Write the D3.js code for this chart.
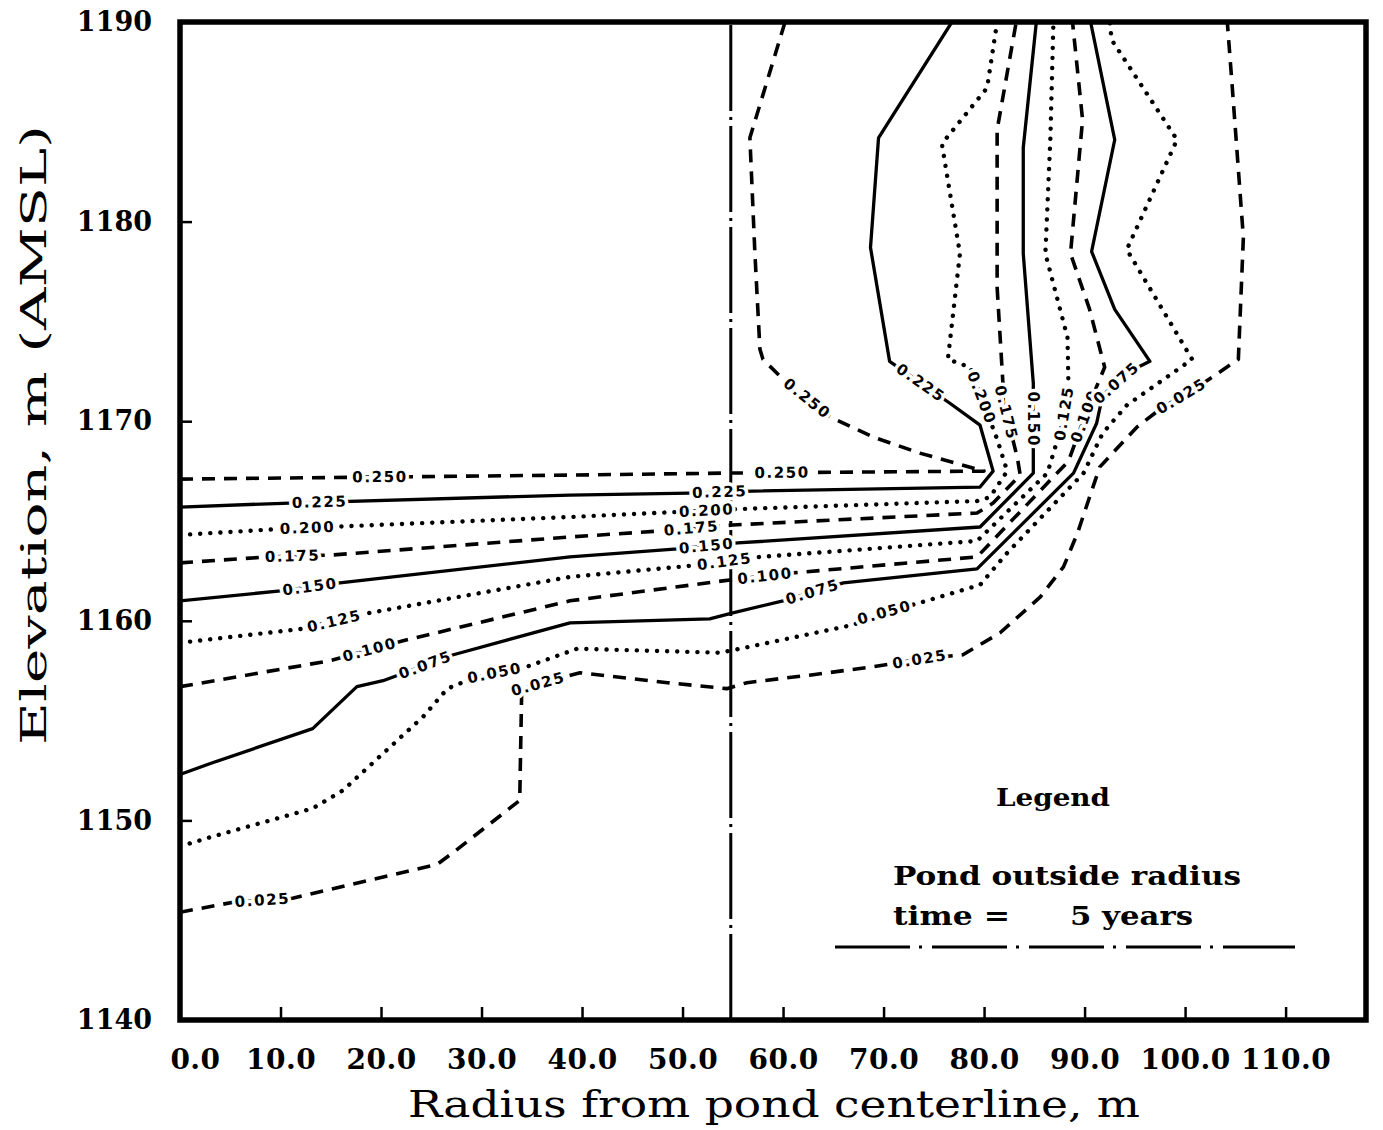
<!DOCTYPE html>
<html>
<head>
<meta charset="utf-8">
<script src="https://cdn.jsdelivr.net/npm/d3@7"></script>
<style>
  html, body { margin: 0; padding: 0; background: #fff; }
  svg { display: block; }
</style>
</head>
<body>
<svg id="chart" width="1383" height="1130"></svg>
<script>
// Concentration contour levels, lowest to highest
const levels = [0.025, 0.050, 0.075, 0.100, 0.125, 0.150, 0.175, 0.200, 0.225, 0.250];

// Contour traces as [radius (m), elevation (m AMSL)]
const contour025 = [[0,1145.4],[5.3,1145.9],[11.2,1146.1],[25.6,1147.8],[27.2,1148.4],[33.8,1151.0],[34.0,1156.6],[39.8,1157.4],[48.5,1156.9],[54.4,1156.6],[56.4,1156.9],[63.0,1157.3],[69.0,1157.7],[74.0,1158.1],[77.9,1158.3],[81.6,1159.4],[85.6,1161.2],[87.9,1162.7],[89.3,1164.4],[91.5,1167.7],[95.2,1169.7],[97.5,1170.6],[101.8,1171.9],[105.3,1173.1],[105.8,1179.2],[104.7,1186.7],[104.2,1190]];
const contour050 = [[0,1148.7],[3.3,1149.2],[13.2,1150.6],[16.2,1151.5],[24.2,1155.2],[26.6,1156.6],[29.5,1157.2],[34.5,1157.7],[39.5,1158.6],[53.7,1158.4],[55.7,1158.6],[67.0,1159.8],[70.0,1160.4],[73.6,1160.9],[79.6,1161.8],[82.3,1163.4],[89.9,1167.4],[91.8,1169.4],[94.2,1170.8],[100.7,1173.1],[94.2,1178.6],[99.2,1184.1],[92.7,1189.1],[92.5,1190]];
const contour075 = [[0,1152.3],[3.3,1152.9],[13.2,1154.6],[17.6,1156.7],[20.2,1157.0],[27.2,1158.3],[38.8,1159.9],[52.7,1160.1],[55.0,1160.4],[60.0,1161.0],[66.0,1161.9],[79.3,1162.6],[88.9,1167.4],[91.2,1169.9],[91.8,1171.3],[94.5,1172.5],[96.5,1173.0],[93.0,1175.6],[90.7,1178.5],[93.0,1184.1],[90.6,1190]];
const contour100 = [[0,1156.7],[14.9,1158.0],[22.2,1159.0],[38.8,1161.0],[54.0,1162.0],[61.0,1162.4],[79.3,1163.2],[88.4,1168.0],[90.5,1170.9],[92.0,1172.7],[90.5,1175.6],[88.6,1178.4],[89.8,1185.1],[88.8,1190]];
const contour125 = [[0,1158.9],[12.2,1159.6],[18.9,1160.4],[38.8,1162.2],[51.7,1162.8],[57.7,1163.2],[79.3,1164.0],[86.3,1167.4],[87.8,1169.9],[88.4,1171.7],[88.3,1174.2],[86.1,1178.4],[86.6,1184.2],[86.9,1190]];
const contour150 = [[0,1161.0],[10.0,1161.5],[15.9,1161.9],[38.8,1163.2],[49.5,1163.6],[55.5,1163.9],[79.6,1164.7],[84.9,1167.4],[84.9,1171.9],[83.9,1178.4],[83.9,1183.7],[85.2,1190]];
const contour175 = [[0,1162.9],[8.7,1163.2],[15.2,1163.3],[38.8,1164.2],[47.8,1164.5],[55.0,1164.8],[79.3,1165.4],[80.9,1165.9],[83.6,1167.3],[83.3,1168.2],[81.9,1171.0],[81.9,1171.7],[81.3,1176.7],[81.3,1184.6],[83.2,1190]];
const contour200 = [[0,1164.3],[10.0,1164.6],[38.8,1165.2],[55.7,1165.6],[79.3,1166.0],[80.6,1166.2],[82.3,1167.5],[81.3,1169.1],[78.6,1172.7],[76.4,1173.1],[77.6,1178.4],[75.8,1183.9],[80.3,1186.7],[81.3,1190]];
const contour225 = [[0,1165.7],[10.9,1165.9],[38.8,1166.3],[50.7,1166.4],[57.0,1166.5],[79.6,1166.7],[80.9,1167.5],[79.6,1169.8],[76.6,1170.9],[70.6,1173.0],[68.7,1178.7],[69.5,1184.2],[76.8,1190]];
const contour250 = [[0,1167.1],[38.8,1167.3],[54.4,1167.4],[80.0,1167.5],[73.6,1168.4],[69.0,1169.2],[64.7,1170.2],[60.0,1172.1],[58.0,1173.1],[57.7,1173.6],[57.2,1178.4],[56.7,1184.2],[60.2,1190]];

const contours = [contour025, contour050, contour075, contour100, contour125,
                  contour150, contour175, contour200, contour225, contour250];

// Where each level is labelled: [level, radius, elevation]
const contourLabels = [
  [0.250, 19.9, 1167.2], [0.250, 59.9, 1167.5], [0.250, 62.5, 1171.2],
  [0.225, 13.9, 1165.8], [0.225, 53.7, 1166.5], [0.225, 73.8, 1172.0],
  [0.200, 12.7, 1164.5], [0.200, 52.4, 1165.5], [0.200, 79.9, 1171.2],
  [0.175, 11.2, 1163.2], [0.175, 50.9, 1164.6], [0.175, 82.0, 1170.4],
  [0.150, 12.9, 1161.8], [0.150, 52.4, 1163.7], [0.150, 84.9, 1170.1],
  [0.125, 15.4, 1159.9], [0.125, 54.2, 1162.9], [0.125, 87.9, 1170.4],
  [0.100, 18.9, 1158.5], [0.100, 58.2, 1162.3], [0.100, 89.8, 1170.3],
  [0.075, 24.4, 1157.8], [0.075, 62.9, 1161.5], [0.075, 93.2, 1171.9],
  [0.050, 31.3, 1157.4], [0.050, 70.1, 1160.4],
  [0.025, 8.2, 1146.0], [0.025, 35.6, 1156.9], [0.025, 73.6, 1158.1], [0.025, 99.7, 1171.2]
];

const radiusTicks = [0, 10, 20, 30, 40, 50, 60, 70, 80, 90, 100, 110];
const elevationTicks = [1140, 1150, 1160, 1170, 1180, 1190];
const pondOutsideRadius = 54.8;

const xTitle = "Radius from pond centerline, m";
const yTitle = "Elevation, m (AMSL)";
const legendTitle = "Legend";
const legendSeries = "Pond outside radius";
const legendTimeLabel = "time =";
const legendTimeValue = "5 years";

// ---- layout ----
const plot = { left: 180, top: 22, right: 1366, bottom: 1020 };
const svg = d3.select("#chart");

const x = d3.scaleLinear().domain([0, 118]).range([plot.left, plot.right]);
const y = d3.scaleLinear().domain([1140, 1190]).range([plot.bottom, plot.top]);

svg.append("rect").attr("width", 1383).attr("height", 1130).attr("fill", "#fff");

svg.append("defs").append("clipPath").attr("id", "plotClip")
  .append("rect")
  .attr("x", plot.left).attr("y", plot.top)
  .attr("width", plot.right - plot.left).attr("height", plot.bottom - plot.top);

const plotG = svg.append("g").attr("clip-path", "url(#plotClip)");

// Line pattern cycles dashed / dotted / solid through the levels
function lineStyle(i) {
  const kind = ["dashed", "dotted", "solid"][i % 3];
  if (kind === "dashed") return { w: 3.6, dash: "13,9", cap: "butt" };
  if (kind === "dotted") return { w: 4.4, dash: "0.1,10", cap: "round" };
  return { w: 3.3, dash: null, cap: "butt" };
}

const line = d3.line().x(d => x(d[0])).y(d => y(d[1]));

contours.forEach((pts, i) => {
  const s = lineStyle(i);
  plotG.append("path")
    .attr("d", line(pts))
    .attr("fill", "none")
    .attr("stroke", "#000")
    .attr("stroke-width", s.w)
    .attr("stroke-linecap", s.cap)
    .attr("stroke-linejoin", "round")
    .attr("stroke-dasharray", s.dash);
});

// Pond outside radius (dash-dot)
plotG.append("path")
  .attr("d", line([[pondOutsideRadius, 1140], [pondOutsideRadius, 1190]]))
  .attr("fill", "none")
  .attr("stroke", "#000")
  .attr("stroke-width", 3)
  .attr("stroke-dasharray", "86,6,3,6");

// Contour labels sit on their line, rotated with the local segment
function snapToLine(pts, px, py) {
  let best = null;
  for (let k = 0; k < pts.length - 1; k++) {
    const ax = x(pts[k][0]), ay = y(pts[k][1]);
    const bx = x(pts[k + 1][0]), by = y(pts[k + 1][1]);
    const dx = bx - ax, dy = by - ay, L2 = dx * dx + dy * dy;
    let t = L2 ? ((px - ax) * dx + (py - ay) * dy) / L2 : 0;
    t = Math.max(0, Math.min(1, t));
    const qx = ax + t * dx, qy = ay + t * dy;
    const dist = (qx - px) ** 2 + (qy - py) ** 2;
    if (!best || dist < best.dist) best = { dist, qx, qy, ang: Math.atan2(dy, dx) * 180 / Math.PI };
  }
  let a = best.ang;
  if (a > 90) a -= 180;
  if (a <= -90) a += 180;
  best.ang = a;
  return best;
}

const fmt = d3.format(".3f");
const labelG = svg.append("g");
contourLabels.forEach(([lev, r, e]) => {
  const idx = levels.findIndex(v => Math.abs(v - lev) < 1e-9);
  const p = snapToLine(contours[idx], x(r), y(e));
  labelG.append("text")
    .attr("transform", `translate(${p.qx},${p.qy}) rotate(${p.ang})`)
    .attr("text-anchor", "middle")
    .attr("dominant-baseline", "central")
    .attr("font-family", "'DejaVu Sans', sans-serif")
    .attr("font-weight", "bold")
    .attr("font-size", 15)
    .attr("letter-spacing", 1.6)
    .attr("stroke", "#fff")
    .attr("stroke-width", 7)
    .attr("stroke-linejoin", "round")
    .attr("paint-order", "stroke")
    .attr("fill", "#000")
    .text(fmt(lev));
});

// ---- axes ----
const tickFont = "'DejaVu Serif', serif";

const xAxis = d3.axisBottom(x)
  .tickValues(radiusTicks)
  .tickFormat(d3.format(".1f"))
  .tickSize(-13)
  .tickPadding(29);
const gx = svg.append("g").attr("transform", `translate(0,${plot.bottom})`).call(xAxis);
gx.select(".domain").remove();
gx.selectAll(".tick line").attr("stroke", "#000").attr("stroke-width", 2.5);
gx.selectAll(".tick text")
  .attr("font-family", tickFont)
  .attr("font-weight", "bold")
  .attr("font-size", 28)
  .attr("letter-spacing", 0.5)
  .attr("fill", "#000")
  .attr("dx", (d, i) => i === 0 ? 15 : 0);

const yAxis = d3.axisLeft(y)
  .tickValues(elevationTicks)
  .tickFormat(d3.format("d"))
  .tickSize(-12)
  .tickPadding(28);
const gy = svg.append("g").attr("transform", `translate(${plot.left},0)`).call(yAxis);
gy.select(".domain").remove();
gy.selectAll(".tick line").attr("stroke", "#000").attr("stroke-width", 2.5);
gy.selectAll(".tick text")
  .attr("font-family", tickFont)
  .attr("font-weight", "bold")
  .attr("font-size", 27)
  .attr("fill", "#000");

// Heavy frame around the plot
svg.append("rect")
  .attr("x", plot.left).attr("y", plot.top)
  .attr("width", plot.right - plot.left).attr("height", plot.bottom - plot.top)
  .attr("fill", "none").attr("stroke", "#000").attr("stroke-width", 5.5);

// Axis titles
svg.append("text")
  .attr("x", 774).attr("y", 1117)
  .attr("text-anchor", "middle")
  .attr("font-family", tickFont)
  .attr("font-size", 38)
  .attr("textLength", 732)
  .attr("lengthAdjust", "spacingAndGlyphs")
  .attr("fill", "#000")
  .text(xTitle);

svg.append("text")
  .attr("transform", "translate(46,435) rotate(-90)")
  .attr("text-anchor", "middle")
  .attr("font-family", tickFont)
  .attr("font-size", 36)
  .attr("textLength", 620)
  .attr("lengthAdjust", "spacingAndGlyphs")
  .attr("fill", "#000")
  .text(yTitle);

// ---- legend ----
const legendFont = "'DejaVu Serif', serif";
svg.append("text")
  .attr("x", 1053).attr("y", 806)
  .attr("text-anchor", "middle")
  .attr("font-family", legendFont).attr("font-weight", "bold")
  .attr("font-size", 25)
  .attr("textLength", 114).attr("lengthAdjust", "spacingAndGlyphs")
  .text(legendTitle);
svg.append("text")
  .attr("x", 893).attr("y", 885)
  .attr("font-family", legendFont).attr("font-weight", "bold")
  .attr("font-size", 26)
  .attr("textLength", 348).attr("lengthAdjust", "spacingAndGlyphs")
  .text(legendSeries);
svg.append("text")
  .attr("x", 893).attr("y", 925)
  .attr("font-family", legendFont).attr("font-weight", "bold")
  .attr("font-size", 26)
  .attr("textLength", 117).attr("lengthAdjust", "spacingAndGlyphs")
  .text(legendTimeLabel);
svg.append("text")
  .attr("x", 1070).attr("y", 925)
  .attr("font-family", legendFont).attr("font-weight", "bold")
  .attr("font-size", 26)
  .attr("textLength", 123).attr("lengthAdjust", "spacingAndGlyphs")
  .text(legendTimeValue);
svg.append("line")
  .attr("x1", 835).attr("x2", 1295).attr("y1", 947).attr("y2", 947)
  .attr("stroke", "#000").attr("stroke-width", 3)
  .attr("stroke-dasharray", "75,9,3,10");
</script>
</body>
</html>
